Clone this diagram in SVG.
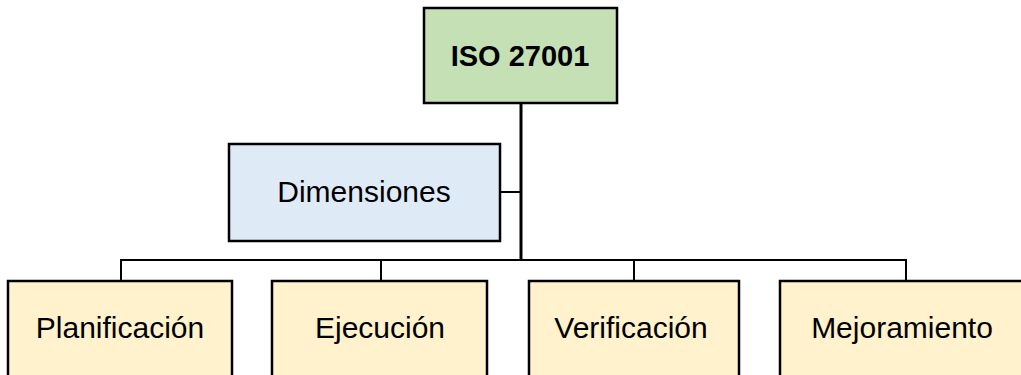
<svg xmlns="http://www.w3.org/2000/svg" width="1021" height="375" viewBox="0 0 1021 375">
<style>
.box{stroke:#000;stroke-width:2.5}
.green{fill:#c5e0b4}
.blue{fill:#deebf7}
.yellow{fill:#fff2cc}
.t{font-family:"Liberation Sans",Arial,sans-serif;font-size:30px;fill:#000;text-anchor:middle}
.b{font-weight:bold;font-size:29px}
.c{fill:none;stroke:#000;stroke-width:2}
</style>
<rect width="1021" height="375" fill="#fff"/>
<g id="connectors">
<line class="c" x1="521" y1="103" x2="521" y2="261" style="stroke-width:3"/>
<line class="c" x1="500" y1="192" x2="521" y2="192"/>
<polyline class="c" points="121,281 121,260 906,260 906,281"/>
<line class="c" x1="381" y1="260" x2="381" y2="281"/>
<line class="c" x1="634" y1="260" x2="634" y2="281"/>
</g>
<g id="iso">
<rect class="box green" x="424" y="8" width="193" height="95"/>
<text class="t b" x="520" y="66">ISO 27001</text>
</g>
<g id="dimensiones">
<rect class="box blue" x="229" y="144" width="271" height="97"/>
<text class="t" x="364" y="202">Dimensiones</text>
</g>
<g id="planificacion">
<rect class="box yellow" x="8" y="281" width="224" height="110"/>
<text class="t" x="120" y="338">Planificación</text>
</g>
<g id="ejecucion">
<rect class="box yellow" x="272" y="281" width="215" height="110"/>
<text class="t" x="380" y="338">Ejecución</text>
</g>
<g id="verificacion">
<rect class="box yellow" x="529" y="281" width="210" height="110"/>
<text class="t" x="631" y="338">Verificación</text>
</g>
<g id="mejoramiento">
<rect class="box yellow" x="780" y="281" width="250" height="110"/>
<text class="t" x="902" y="338">Mejoramiento</text>
</g>
</svg>
